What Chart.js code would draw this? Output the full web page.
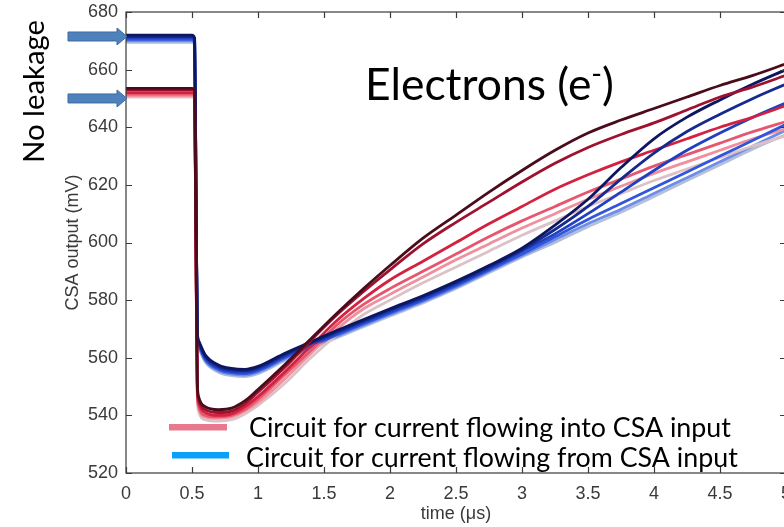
<!DOCTYPE html>
<html>
<head>
<meta charset="utf-8">
<script src="https://cdn.jsdelivr.net/npm/chart.js@4.4.1/dist/chart.umd.min.js"></script>
<style>
  html, body { margin: 0; padding: 0; background: #ffffff; overflow: hidden; }
  #wrap { width: 800px; height: 527px; }
</style>
</head>
<body>
<div id="wrap"><canvas id="c" width="800" height="527"></canvas></div>
<script>
// Sample times (µs)
const time = [0, 0.25, 0.5, 0.52, 0.53, 0.54, 0.55, 0.6, 0.7, 0.8, 0.9, 1.0, 1.2, 1.4, 1.6, 1.8, 2.0, 2.25, 2.5, 2.75, 3.0, 3.25, 3.5, 3.75, 4.0, 4.25, 4.5, 4.75, 5.0];

// CSA output (mV), circuit for current flowing into the CSA input (dark -> light)
const intoA = [653.5, 653.5, 653.5, 653, 600, 552, 546.5, 543, 542, 542.5, 545, 549, 557.5, 566.5, 575.5, 584, 592, 601.5, 609.5, 617.5, 625, 632, 638, 642.5, 646.5, 650.5, 654.5, 658, 662];
const intoB = [653, 653, 653, 652.5, 599, 551, 545.5, 542, 541, 541.5, 544, 548, 556.5, 566, 575, 583, 590.5, 599.5, 607, 614, 621, 627.5, 633, 637.5, 641.5, 646, 650.5, 654, 658];
const intoC = [652, 652, 652, 651.5, 598, 550, 544.5, 541, 540, 540.5, 543, 546.5, 555, 564, 573, 580.5, 587, 593.5, 600, 606.5, 612.5, 618.5, 623.5, 628, 632, 636, 640, 643.5, 647.5];
const intoD = [651.5, 651.5, 651.5, 651, 597, 549, 543.5, 540, 539.5, 540, 542, 545.5, 554, 562.5, 571.5, 578.5, 584, 590, 596, 602, 607.5, 612.5, 617.5, 622, 626.5, 630.5, 634.5, 638.5, 642];
const intoE = [651, 651, 651, 650.5, 596, 548, 542.5, 539.5, 539, 539.5, 541.5, 544.5, 552.5, 561.5, 570, 577, 582, 588, 594, 599.5, 605, 610, 615, 619.5, 624, 628, 632, 636, 639.5];
const intoF = [650.5, 650.5, 650.5, 650, 595, 547, 541.5, 538.5, 538, 538.5, 540.5, 543.5, 551, 560, 568, 575, 580, 586, 591.5, 597, 602.5, 607.5, 612.5, 617, 621.5, 625.5, 629.5, 633.5, 637];

// CSA output (mV), circuit for current flowing from the CSA input (dark -> light)
const fromA = [672, 672, 672, 671, 622, 570, 566, 561, 557.5, 556.3, 556, 557, 561.5, 565.5, 569.5, 573.3, 577, 581.5, 586.5, 592, 598, 606, 615, 626, 636, 643.5, 649.5, 655, 660];
const fromB = [671.5, 671.5, 671.5, 670.5, 621.5, 569.5, 565.5, 560.5, 557, 555.8, 555.5, 556.5, 561, 565, 569, 572.8, 576.5, 581, 586, 591.5, 597.5, 604.5, 612.5, 622, 631, 638.5, 644.5, 650, 655];
const fromC = [671, 671, 671, 670, 621, 569, 565, 560, 556.5, 555.3, 555, 556, 560.5, 564.5, 568.5, 572.3, 576, 580.5, 585.5, 591, 597, 603, 610, 617.5, 625, 632, 638, 643.5, 648.5];
const fromD = [670.5, 670.5, 670.5, 669.5, 620.5, 568.5, 564.5, 559.5, 556, 554.8, 554.5, 555.5, 560, 564, 568, 571.8, 575.5, 580, 585, 590.5, 596, 602, 608, 613.5, 619, 624.5, 630, 635.5, 641];
const fromE = [670, 670, 670, 669, 620, 568, 564, 559, 555.5, 554.3, 554, 555, 559.5, 563.5, 567.5, 571.3, 575, 579.5, 584.5, 590, 595.5, 601, 606.5, 611.5, 617, 622.5, 628, 633.5, 639];
const fromF = [669.5, 669.5, 669.5, 668.5, 619.5, 567.5, 563.5, 558.5, 555, 553.8, 553.5, 554.5, 559, 563, 567, 570.8, 574.5, 579, 584, 589.5, 595, 600, 605.5, 610.5, 616, 621.5, 627, 632.5, 637.5];

// Axis ticks
const xTicks = [0, 0.5, 1, 1.5, 2, 2.5, 3, 3.5, 4, 4.5, 5];
const yTicks = [520, 540, 560, 580, 600, 620, 640, 660, 680];

// Baseline levels marked by the "No leakage" arrows (mV)
const noLeakageLevels = [671.5, 650];

// Legend entries
const legendLabels = ['Circuit for current flowing into CSA input', 'Circuit for current flowing from CSA input'];
const legendColors = ['#e8788c', '#0aa0f8'];

const trace = (vals, color) => ({
  data: time.map((t, i) => ({ x: t, y: vals[i] })),
  borderColor: color,
  borderWidth: 2.8,
  pointRadius: 0,
  fill: false,
  cubicInterpolationMode: 'monotone'
});

// first dataset is painted on top
const datasets = [
  trace(intoA, '#4a0c1a'),
  trace(intoB, '#9e1230'),
  trace(fromA, '#0c1760'),
  trace(fromB, '#16298e'),
  trace(intoC, '#d3223f'),
  trace(fromC, '#2040c2'),
  trace(intoD, '#e6566e'),
  trace(fromD, '#3256da'),
  trace(intoE, '#f0909e'),
  trace(intoF, '#dcc2c6'),
  trace(fromE, '#6f8de6'),
  trace(fromF, '#b4c0da')
];

const SANS = '"Liberation Sans", Arial, sans-serif';
const NOTE = 'Lato, "Open Sans", sans-serif';

function fitSize(ctx, text, family, width) {
  ctx.font = '100px ' + family;
  return 100 * width / ctx.measureText(text).width;
}

const framePlugin = {
  id: 'frame',
  afterDraw(chart) {
    const { ctx, chartArea: a, scales: { x, y } } = chart;
    ctx.save();
    // axes box with inward ticks
    ctx.strokeStyle = '#3a3a3a';
    ctx.lineWidth = 1.2;
    ctx.strokeRect(a.left, a.top, a.right - a.left, a.bottom - a.top);
    const tl = 6;
    ctx.beginPath();
    xTicks.forEach(v => {
      const px = Math.round(x.getPixelForValue(v)) + 0.5;
      ctx.moveTo(px, a.bottom); ctx.lineTo(px, a.bottom - tl);
      ctx.moveTo(px, a.top); ctx.lineTo(px, a.top + tl);
    });
    yTicks.forEach(v => {
      const py = Math.round(y.getPixelForValue(v)) + 0.5;
      ctx.moveTo(a.left, py); ctx.lineTo(a.left + tl, py);
      ctx.moveTo(a.right, py); ctx.lineTo(a.right - tl, py);
    });
    ctx.stroke();

    // "No leakage" arrows
    noLeakageLevels.forEach(v => {
      const cy = y.getPixelForValue(v);
      const x0 = 68, x1 = 117, x2 = 127, sh = 4.5, hh = 8.5;
      ctx.beginPath();
      ctx.moveTo(x0, cy - sh); ctx.lineTo(x1, cy - sh); ctx.lineTo(x1, cy - hh);
      ctx.lineTo(x2, cy); ctx.lineTo(x1, cy + hh); ctx.lineTo(x1, cy + sh);
      ctx.lineTo(x0, cy + sh); ctx.closePath();
      ctx.fillStyle = '#4f81bd';
      ctx.fill();
      ctx.strokeStyle = '#3d6b9f';
      ctx.lineWidth = 1;
      ctx.stroke();
    });

    ctx.fillStyle = '#000000';
    ctx.textAlign = 'left';
    ctx.textBaseline = 'alphabetic';

    // rotated "No leakage" label
    const nl = 'No leakage';
    const nlSize = fitSize(ctx, nl, NOTE, 143);
    ctx.save();
    ctx.translate(44, 163);
    ctx.rotate(-Math.PI / 2);
    ctx.font = nlSize + 'px ' + NOTE;
    ctx.fillText(nl, 0, 0);
    ctx.restore();

    // "Electrons (e-)" with superscript minus
    const main = 'Electrons (e', sup = '-', close = ')';
    ctx.font = '100px ' + NOTE;
    const wMain = ctx.measureText(main).width, wClose = ctx.measureText(close).width;
    ctx.font = '65px ' + NOTE;
    const wSup = ctx.measureText(sup).width;
    const s = 249 * 100 / (wMain + wSup + wClose);
    let ex = 365;
    const eb = 100;
    ctx.font = s + 'px ' + NOTE;
    ctx.fillText(main, ex, eb);
    ex += ctx.measureText(main).width;
    ctx.font = (s * 0.65) + 'px ' + NOTE;
    ctx.fillText(sup, ex, eb - s * 0.36);
    ex += ctx.measureText(sup).width;
    ctx.font = s + 'px ' + NOTE;
    ctx.fillText(close, ex, eb);

    // legend
    const ls = fitSize(ctx, legendLabels[0], NOTE, 482);
    ctx.font = ls + 'px ' + NOTE;
    ctx.fillStyle = legendColors[0];
    ctx.fillRect(169, 424, 58, 6.5);
    ctx.fillStyle = legendColors[1];
    ctx.fillRect(172, 452, 57, 6.5);
    ctx.fillStyle = '#000000';
    ctx.fillText(legendLabels[0], 249, 437);
    ctx.fillText(legendLabels[1], 246, 467);
    ctx.restore();
  }
};

const tickFont = { family: SANS, size: 18 };

new Chart(document.getElementById('c').getContext('2d'), {
  type: 'line',
  data: { datasets },
  options: {
    responsive: false,
    animation: false,
    devicePixelRatio: 1,
    layout: { padding: { left: 0, right: 14, top: 12, bottom: 0 } },
    plugins: { legend: { display: false }, tooltip: { enabled: false } },
    scales: {
      x: {
        type: 'linear', min: 0, max: 5,
        afterBuildTicks: s => { s.ticks = xTicks.map(v => ({ value: v })); },
        ticks: { color: '#3a3a3a', font: tickFont, padding: 10, maxRotation: 0, autoSkip: false, callback: v => String(v) },
        grid: { display: false, drawTicks: false },
        border: { display: false },
        title: { display: true, text: 'time (μs)', color: '#3a3a3a', font: { family: SANS, size: 18 }, padding: { top: 0, bottom: 2 } },
        afterFit: s => { s.height = 54; s.paddingLeft = 0; s.paddingRight = 0; }
      },
      y: {
        type: 'linear', min: 520, max: 680,
        afterBuildTicks: s => { s.ticks = yTicks.map(v => ({ value: v })); },
        ticks: { color: '#3a3a3a', font: tickFont, padding: 8, autoSkip: false, callback: v => String(v) },
        grid: { display: false, drawTicks: false },
        border: { display: false },
        title: { display: true, text: 'CSA output (mV)', color: '#3a3a3a', font: { family: SANS, size: 18 }, padding: { top: 62, bottom: 0 } },
        afterFit: s => { s.width = 126; s.paddingTop = 0; s.paddingBottom = 0; }
      }
    }
  },
  plugins: [framePlugin]
});
</script>
</body>
</html>
